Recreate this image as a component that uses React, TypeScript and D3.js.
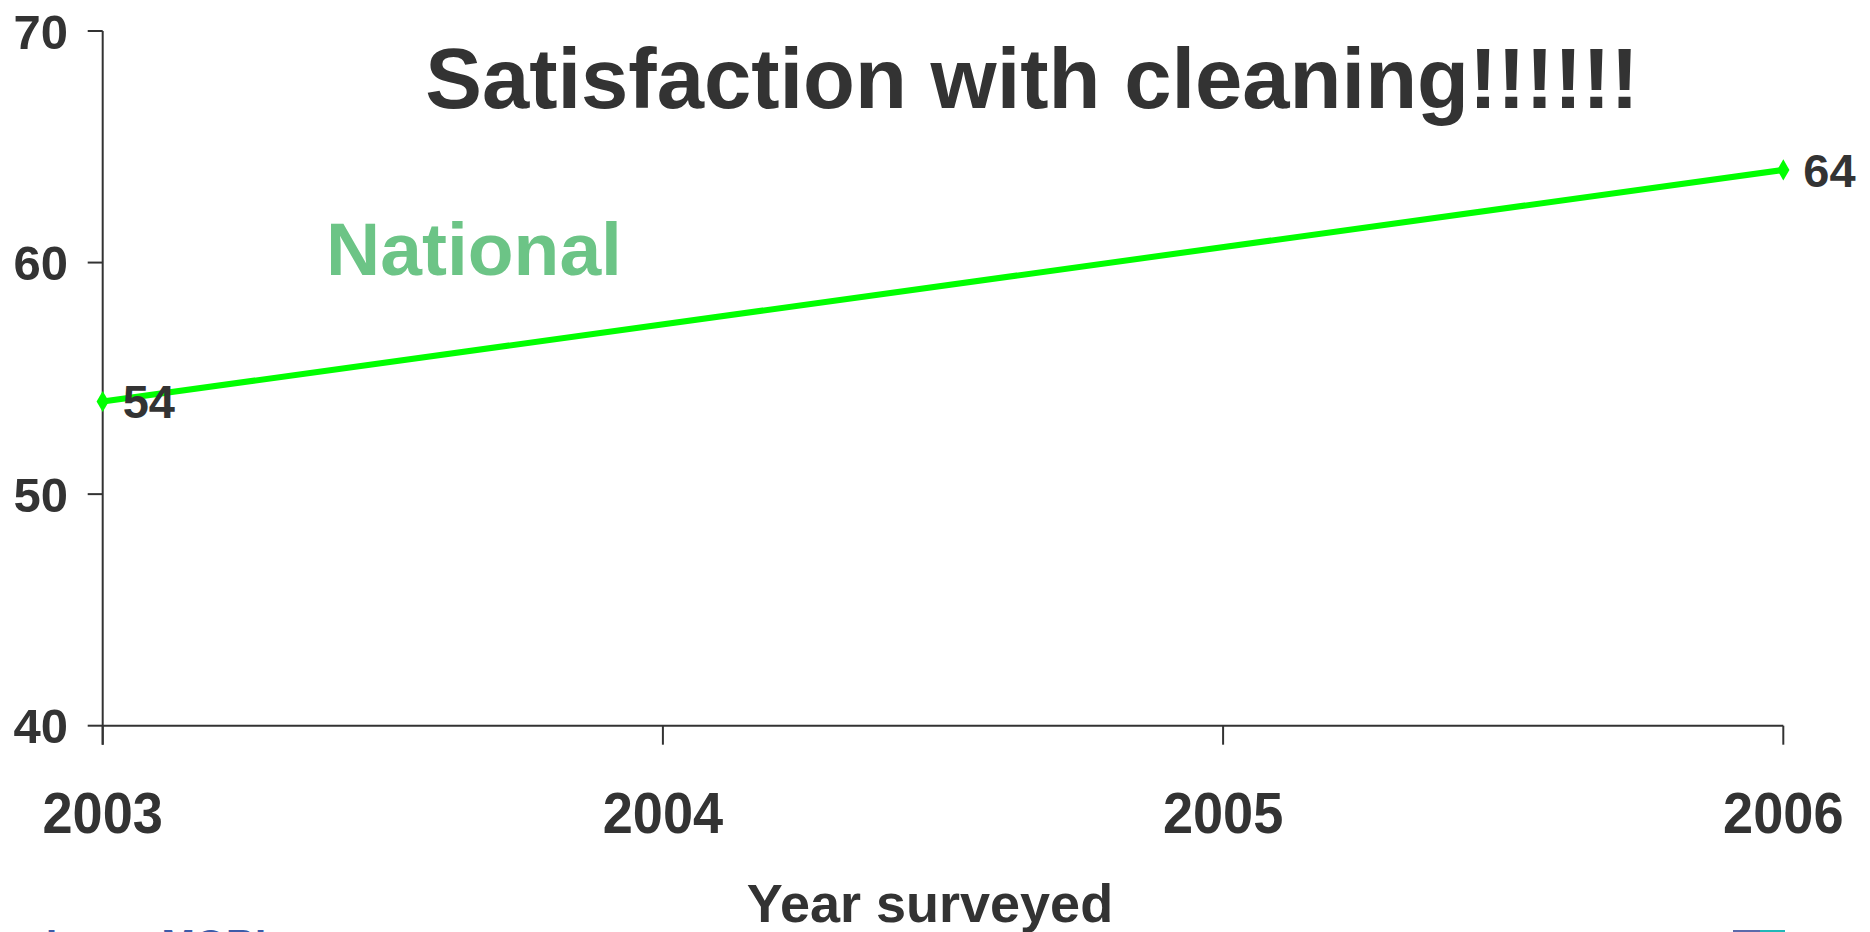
import React from "react";
import * as d3 from "d3";

const years = [2003, 2004, 2005, 2006];
const seriesYears = [2003, 2006];
const seriesValues = [54, 64];
const yTicks = [40, 50, 60, 70];
const title = "Satisfaction with cleaning!!!!!!";
const seriesName = "National";
const xTitle = "Year surveyed";

const W = 1870;
const H = 932;
const FONT = "'Liberation Sans', Arial, Helvetica, sans-serif";
const DARK = "#333333";

export default function App() {
  const x = d3.scaleLinear().domain([2003, 2006]).range([102.7, 1783.3]);
  const y = d3.scaleLinear().domain([40, 70]).range([725.7, 31]);
  const pts = seriesYears.map((yr, i) => [x(yr), y(seriesValues[i])] as [number, number]);
  const line = d3.line()(pts) || "";
  const diamond = d3.symbol().type(d3.symbolDiamond).size(130)() || "";

  return (
    <svg width={W} height={H} style={{ position: "absolute", left: 0, top: 0, background: "#fff" }} fontFamily={FONT}>
      <rect x={0} y={0} width={W} height={H} fill="#fff" />
      {/* axes */}
      <line x1={x(2003)} x2={x(2003)} y1={y(70)} y2={y(40) + 19} stroke={DARK} strokeWidth={2} />
      <line x1={x(2003)} x2={x(2006)} y1={y(40)} y2={y(40)} stroke={DARK} strokeWidth={2} />
      {yTicks.map((t) => (
        <g key={t}>
          <line x1={x(2003) - 15} x2={x(2003)} y1={y(t)} y2={y(t)} stroke={DARK} strokeWidth={2} />
          <text x={68} y={y(t)} dy="0.36em" textAnchor="end" fontSize={49} fontWeight="bold" fill={DARK}>
            {t}
          </text>
        </g>
      ))}
      {years.map((yr) => (
        <g key={yr}>
          <line x1={x(yr)} x2={x(yr)} y1={y(40)} y2={y(40) + 19} stroke={DARK} strokeWidth={2} />
          <text x={x(yr)} y={833} textAnchor="middle" fontSize={57} fontWeight="bold" fill={DARK} transform={`translate(${x(yr)},0) scale(0.95,1) translate(${-x(yr)},0)`}>
            {yr}
          </text>
        </g>
      ))}
      {/* series */}
      <path d={line} fill="none" stroke="#00ff00" strokeWidth={6} />
      {pts.map((p, i) => (
        <path key={i} d={diamond} transform={`translate(${p[0]},${p[1]})`} fill="#00ff00" />
      ))}
      {pts.map((p, i) => (
        <text key={"l" + i} x={p[0] + 20} y={p[1]} dy="0.36em" fontSize={47} fontWeight="bold" fill={DARK}>
          {seriesValues[i]}
        </text>
      ))}
      {/* titles */}
      <text x={1032} y={108} textAnchor="middle" fontSize={85} fontWeight="bold" fill={DARK}>
        {title}
      </text>
      <text x={474} y={275} textAnchor="middle" fontSize={75} fontWeight="bold" fill="#6cc486">
        {seriesName}
      </text>
      <text x={930} y={922} textAnchor="middle" fontSize={54} fontWeight="bold" fill={DARK}>
        {xTitle}
      </text>
      {/* bottom decorations (cut off in the reference) */}
      <text x={46} y={958} fontSize={40} fontWeight="bold" fill="#3d5ba9">Ipsos MORI</text>
      <rect x={1733} y={930} width={27} height={2} fill="#5b6aab" />
      <rect x={1760} y={930} width={25} height={2} fill="#20b8b8" />
    </svg>
  );
}
